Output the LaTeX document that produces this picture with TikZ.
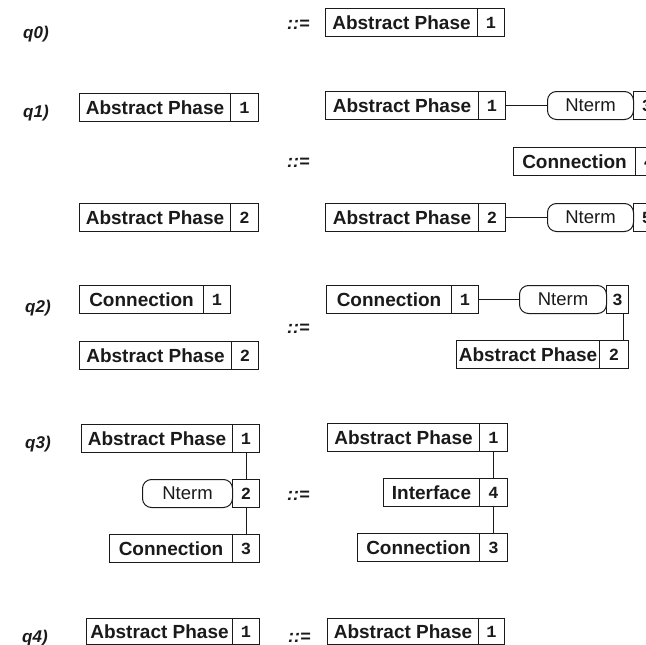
\documentclass[tikz,border=0pt]{standalone}
\usepackage{fontspec}
\setmainfont{Liberation Sans}
\newfontfamily\monob{Liberation Mono}
\definecolor{ink}{HTML}{1A1A1A}
\newcommand\boxfont{\fontsize{19}{22}\selectfont\bfseries}
\newcommand\ntfont{\fontsize{18.5}{22}\selectfont}
\newcommand\numfont{\monob\fontsize{17}{20}\selectfont\bfseries}
\newcommand\lblfont{\fontsize{17}{20}\selectfont\bfseries\itshape}
\newcommand\defsymfont{\fontsize{18}{20}\selectfont\bfseries\itshape}
\tikzset{
  frame/.style={draw=ink, line width=1pt, text=ink},
  namecell/.style={frame, rectangle, inner sep=0pt, anchor=north west, font=\boxfont},
  numcell/.style={frame, rectangle, inner sep=0pt, anchor=north west, font=\numfont},
  ntcell/.style={frame, rectangle, rounded corners=9pt, inner sep=0pt, anchor=north west, font=\ntfont},
  conn/.style={draw=ink, line width=1pt},
  lbl/.style={anchor=base west, inner sep=0pt, font=\lblfont, text=ink},
  defsym/.style={anchor=base west, inner sep=0pt, font=\defsymfont, text=ink}
}
% name, left, divider, right, top, bottom, text, number
\newcommand\mkbox[8]{%
  \node[namecell, minimum width={#3-#2}, minimum height={#6-#5}] (#1) at (#2,#5) {#7};
  \node[numcell, minimum width={#4-#3}, minimum height={#6-#5}] (#1n) at (#3,#5) {#8};}
% name, left, divider, right, top, bottom, number
\newcommand\mknt[7]{%
  \node[ntcell, minimum width={#3-#2}, minimum height={#6-#5}] (#1) at (#2,#5) {Nterm};
  \node[numcell, minimum width={#4-#3}, minimum height={#6-#5}] (#1n) at (#3,#5) {#7};}
\begin{document}
\begin{tikzpicture}[x=1pt, y=-1pt]
\useasboundingbox (0,0) rectangle (646,645);
\fill[white] (0,0) rectangle (646,645);
% labels
\node[lbl] (l0) at (23,38) {q0)};
\node[lbl] (l1) at (23,117) {q1)};
\node[lbl] (l2) at (25,312) {q2)};
\node[lbl] (l3) at (25,448) {q3)};
\node[lbl] (l4) at (22,642) {q4)};
% ::=
\node[defsym] (d0) at (287,29) {::=};
\node[defsym] (d1) at (287,167) {::=};
\node[defsym] (d2) at (287,333) {::=};
\node[defsym] (d3) at (287,500) {::=};
\node[defsym] (d4) at (288,642) {::=};
% q0
\mkbox{qa}{325}{477}{504}{8}{36}{Abstract Phase}{1}
% q1
\mkbox{qb}{79}{230}{258}{93}{121}{Abstract Phase}{1}
\mkbox{qc}{325}{478}{505}{91}{119}{Abstract Phase}{1}
\mknt{qd}{547}{633}{660}{91}{119}{3}
\mkbox{qe}{513}{635}{662}{147}{175}{Connection}{4}
\mkbox{qf}{79}{230}{258}{203}{231}{Abstract Phase}{2}
\mkbox{qg}{325}{478}{505}{203}{231}{Abstract Phase}{2}
\mknt{qh}{547}{633}{660}{203}{231}{5}
\draw[conn] (qcn.east) -- (qd.west);
\draw[conn] (qgn.east) -- (qh.west);
% q2
\mkbox{qi}{79}{203}{230}{285}{313}{Connection}{1}
\mkbox{qj}{79}{231}{258}{341}{369}{Abstract Phase}{2}
\mkbox{qk}{326}{451}{478}{285}{313}{Connection}{1}
\mknt{ql}{519}{606}{628}{285}{313}{3}
\mkbox{qm}{456}{599}{628}{340}{368}{Abstract Phase}{2}
\draw[conn] (qkn.east) -- (ql.west);
\draw[conn] ([xshift=-6pt]qln.south east) -- ([xshift=-6pt]qmn.north east);
% q3
\mkbox{qn}{81}{232}{259}{424}{452}{Abstract Phase}{1}
\mknt{qo}{142}{232}{259}{479}{507}{2}
\mkbox{qp}{109}{232}{259}{534}{562}{Connection}{3}
\draw[conn] (qnn.south) -- (qon.north);
\draw[conn] (qon.south) -- (qpn.north);
\mkbox{qq}{327}{479}{507}{423}{451}{Abstract Phase}{1}
\mkbox{qr}{383}{479}{507}{478}{506}{Interface}{4}
\mkbox{qs}{357}{479}{507}{533}{561}{Connection}{3}
\draw[conn] (qqn.south) -- (qrn.north);
\draw[conn] (qrn.south) -- (qsn.north);
% q4
\mkbox{qt}{86}{232}{259}{618}{644}{Abstract Phase}{1}
\mkbox{qu}{327}{478}{504}{618}{644}{Abstract Phase}{1}
\end{tikzpicture}
\end{document}
